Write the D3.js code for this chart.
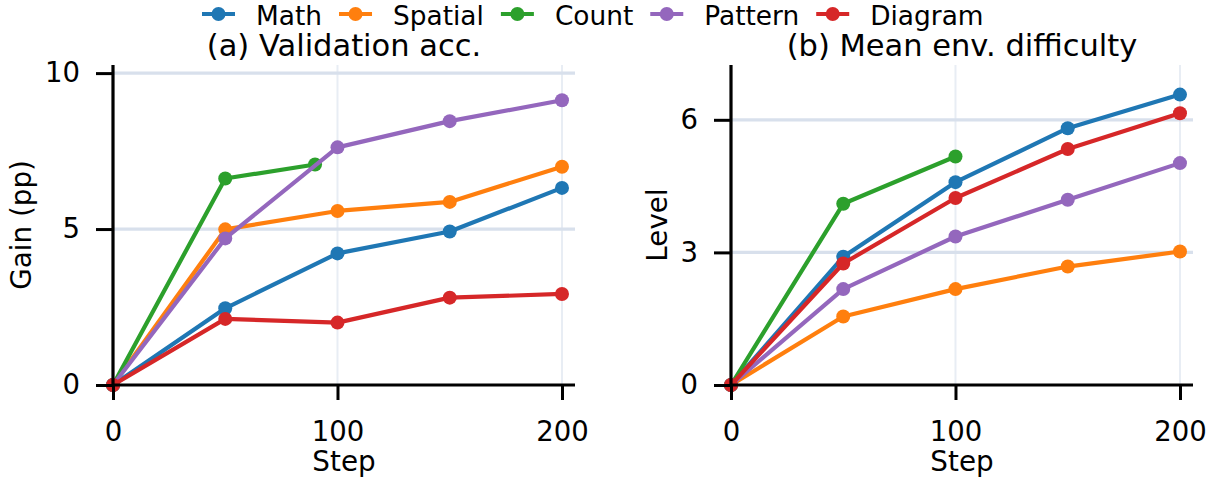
<!DOCTYPE html>
<meta charset="utf-8">
<style>
    body { margin: 0; background: white; }
    text { font-family: "DejaVu Sans", sans-serif; fill: black; }
</style>
<body>
<script src="https://cdn.jsdelivr.net/npm/d3@7"></script>
<script>
    var series = ['Math', 'Spatial', 'Count', 'Pattern', 'Diagram'],
        colors = ['#1f77b4', '#ff7f0e', '#2ca02c', '#9467bd', '#d62728'];

    // (a) validation gain, pp
    var stepsA = {
        Math:    [0, 50, 100, 150, 200],
        Spatial: [0, 50, 100, 150, 200],
        Count:   [0, 50, 90],
        Pattern: [0, 50, 100, 150, 200],
        Diagram: [0, 50, 100, 150, 200]
    };
    var gainMath    = [0, 2.46, 4.22, 4.92, 6.32],
        gainSpatial = [0, 4.99, 5.58, 5.87, 7.0],
        gainCount   = [0, 6.62, 7.07],
        gainPattern = [0, 4.7, 7.62, 8.46, 9.13],
        gainDiagram = [0, 2.12, 2.0, 2.8, 2.92];

    // (b) mean env difficulty
    var stepsB = {
        Math:    [0, 50, 100, 150, 200],
        Spatial: [0, 50, 100, 150, 200],
        Count:   [0, 50, 100],
        Pattern: [0, 50, 100, 150, 200],
        Diagram: [0, 50, 100, 150, 200]
    };
    var levelMath    = [0, 2.9, 4.59, 5.81, 6.57],
        levelSpatial = [0, 1.55, 2.17, 2.68, 3.02],
        levelCount   = [0, 4.1, 5.17],
        levelPattern = [0, 2.17, 3.36, 4.19, 5.02],
        levelDiagram = [0, 2.75, 4.23, 5.34, 6.15];

    var xTicks = [0, 100, 200],
        yTicksA = [0, 5, 10],
        yTicksB = [0, 3, 6];

    var W = 1220, H = 481;
    var svg = d3.select('body').append('svg')
        .attr('width', W)
        .attr('height', H);

    function panel(opt) {
        var x = d3.scaleLinear().domain([0, 205.8]).range([opt.left, opt.right]),
            y = d3.scaleLinear().domain([0, opt.ymax]).range([385, 65]);
        var g = svg.append('g');

        // grid
        g.selectAll('line.vgrid').data(xTicks.slice(1)).enter().append('line')
            .attr('x1', d => x(d)).attr('x2', d => x(d))
            .attr('y1', 65).attr('y2', 385)
            .attr('stroke', '#e8edf4').attr('stroke-width', 2);
        g.selectAll('line.hgrid').data(opt.yTicks.slice(1)).enter().append('line')
            .attr('x1', opt.left).attr('x2', opt.right)
            .attr('y1', d => y(d)).attr('y2', d => y(d))
            .attr('stroke', '#d8e0ec').attr('stroke-width', 3.2);

        // lines
        series.forEach(function(s, i) {
            var pts = opt.steps[s].map((st, j) => [st, opt.vals[i][j]]);
            g.append('path')
                .datum(pts)
                .attr('fill', 'none')
                .attr('stroke', colors[i])
                .attr('stroke-width', 4.2)
                .attr('stroke-linejoin', 'round')
                .attr('d', d3.line().x(d => x(d[0])).y(d => y(d[1])));
            g.selectAll(null).data(pts).enter().append('circle')
                .attr('cx', d => x(d[0])).attr('cy', d => y(d[1]))
                .attr('r', 7)
                .attr('fill', colors[i]);
        });

        // axes
        var xa = g.append('g').attr('transform', 'translate(0,385)')
            .call(d3.axisBottom(x).tickValues(xTicks).tickSize(15).tickPadding(21));
        var ya = g.append('g').attr('transform', 'translate(' + opt.left + ',0)')
            .call(d3.axisLeft(y).tickValues(opt.yTicks).tickSize(17).tickPadding(16));
        [xa, ya].forEach(function(a) {
            a.select('.domain').attr('stroke-width', 3.2).attr('stroke', 'black');
            a.selectAll('.tick line').attr('stroke-width', 3).attr('stroke', 'black');
            a.selectAll('.tick text').style('font-size', '27.5px')
                .style('font-family', '"DejaVu Sans"');
        });
        xa.select('.domain').attr('d', 'M' + opt.left + ',0H' + opt.right);
        ya.select('.domain').attr('d', 'M0,65V385');

        svg.append('text')
            .attr('x', (opt.left + opt.right) / 2).attr('y', 471)
            .attr('text-anchor', 'middle')
            .style('font-size', '27.8px')
            .text('Step');
        svg.append('text')
            .attr('transform', 'translate(' + opt.ylabX + ',225) rotate(-90)')
            .attr('text-anchor', 'middle')
            .style('font-size', '27.8px')
            .text(opt.ylabel);
        svg.append('text')
            .attr('x', (opt.left + opt.right) / 2).attr('y', 56)
            .attr('text-anchor', 'middle')
            .style('font-size', '30.5px')
            .text(opt.title);
    }

    panel({
        left: 113, right: 575, ymax: 10.26, yTicks: yTicksA,
        steps: stepsA,
        vals: [gainMath, gainSpatial, gainCount, gainPattern, gainDiagram],
        ylabel: 'Gain (pp)', ylabX: 31, title: '(a) Validation acc.'
    });
    panel({
        left: 731, right: 1193, ymax: 7.24, yTicks: yTicksB,
        steps: stepsB,
        vals: [levelMath, levelSpatial, levelCount, levelPattern, levelDiagram],
        ylabel: 'Level', ylabX: 667, title: '(b) Mean env. difficulty'
    });

    // legend
    var leg = svg.append('g'), lx = 202;
    series.forEach(function(s, i) {
        leg.append('line')
            .attr('x1', lx).attr('x2', lx + 33).attr('y1', 14).attr('y2', 14)
            .attr('stroke', colors[i]).attr('stroke-width', 4.2);
        leg.append('circle').attr('cx', lx + 16.5).attr('cy', 14).attr('r', 7)
            .attr('fill', colors[i]);
        var t = leg.append('text')
            .attr('x', lx + 54).attr('y', 24.5)
            .style('font-size', '26.4px')
            .text(s);
        lx += 54 + t.node().getComputedTextLength() + 17;
    });
</script>
</body>
